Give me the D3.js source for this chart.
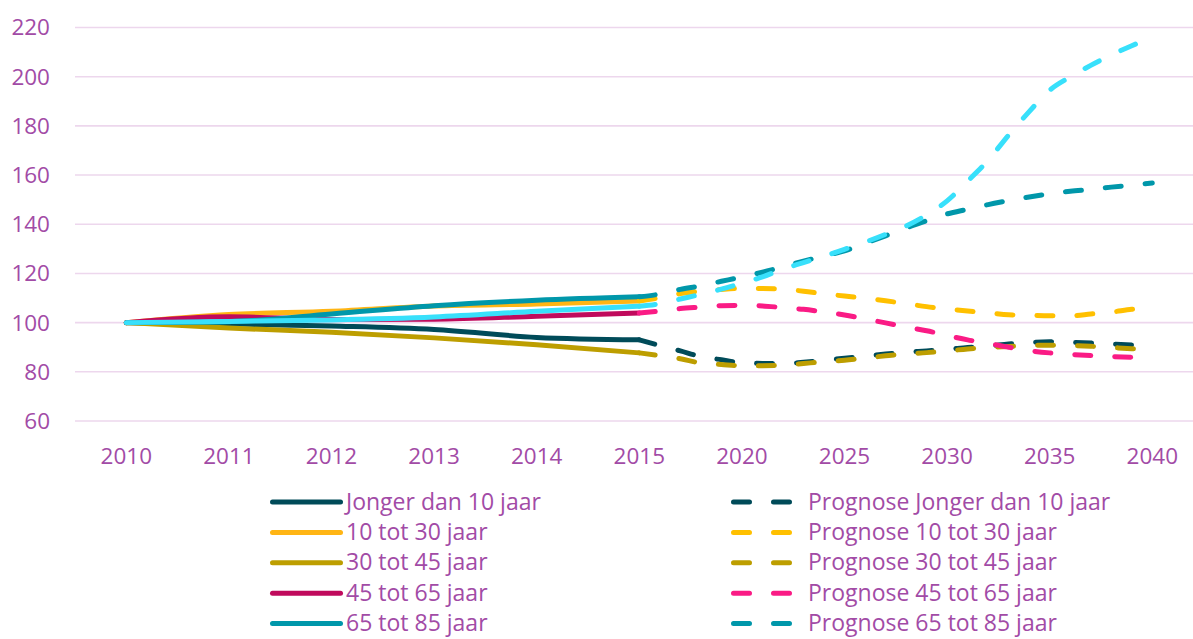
<!DOCTYPE html>
<html>
<head>
<meta charset="utf-8">
<script src="https://cdn.jsdelivr.net/npm/d3@7"></script>
<style>
  html, body { margin: 0; padding: 0; background: #ffffff; }
  svg { display: block; }
  text { font-family: "Open Sans", Lato, sans-serif; }
</style>
</head>
<body>
<svg id="chart" width="1193" height="639"></svg>
<script>
// ---- data ----
const categories = ["2010","2011","2012","2013","2014","2015","2020","2025","2030","2035","2040"];
const yTicks = [60, 80, 100, 120, 140, 160, 180, 200, 220];

const histYears = [2010, 2011, 2012, 2013, 2014, 2015];
const progYears = [2015,2016,2017,2018,2019,2020,2021,2022,2023,2024,2025,2026,2027,2028,2029,2030,2031,2032,2033,2034,2035,2036,2037,2038,2039,2040];

const seriesNames = ["Jonger dan 10 jaar", "10 tot 30 jaar", "30 tot 45 jaar", "45 tot 65 jaar", "65 tot 85 jaar", "85 jaar en ouder"];

const histJonger = [100, 99.5, 98.6, 97.2, 94.0, 93.0];
const hist10_30  = [100, 103.3, 104.6, 106.8, 107.6, 108.8];
const hist30_45  = [100, 97.8, 96.1, 93.8, 91.0, 87.7];
const hist45_65  = [100, 102.4, 101.3, 101.4, 102.6, 103.9];
const hist65_85  = [100, 100.4, 103.5, 106.9, 109.1, 110.5];
const hist85plus = [100, 100.5, 101.1, 102.3, 104.6, 106.7];

const progJonger = [93.0, 90.7, 88.5, 86.2, 84.9, 83.6, 83.4, 83.3, 83.9, 84.7, 85.5, 86.4, 87.2, 88.0, 88.5, 89.1, 89.9, 90.5, 91.3, 91.9, 92.2, 92.0, 91.7, 91.3, 90.9, 90.5];
const prog10_30  = [108.8, 110.1, 111.8, 112.8, 113.5, 113.9, 113.9, 113.5, 112.8, 111.7, 110.8, 109.9, 108.9, 107.7, 106.5, 105.6, 104.7, 104.0, 103.2, 103.0, 102.8, 102.8, 103.5, 104.3, 105.4, 106.1];
const prog30_45  = [87.7, 86.6, 85.3, 83.6, 83.0, 82.5, 82.5, 82.7, 83.4, 84.1, 84.7, 85.6, 86.5, 87.3, 87.8, 88.5, 89.3, 89.9, 90.3, 90.7, 90.8, 90.7, 90.4, 89.9, 89.4, 89.0];
const prog45_65  = [103.9, 104.7, 105.7, 106.3, 106.9, 107.0, 106.8, 106.1, 105.4, 104.3, 103.1, 101.5, 99.9, 98.2, 96.7, 94.8, 93.0, 91.6, 90.0, 88.6, 87.7, 87.1, 86.6, 86.2, 85.9, 85.7];
const prog65_85  = [110.5, 111.6, 113.5, 115.0, 116.8, 118.6, 120.5, 122.7, 125.0, 127.1, 129.2, 132.2, 135.3, 138.5, 141.4, 144.2, 146.1, 148.0, 149.6, 151.1, 152.4, 153.4, 154.2, 155.1, 155.9, 156.8];
const prog85plus = [106.7, 107.7, 109.6, 111.5, 113.6, 116.0, 118.6, 121.8, 124.4, 127.0, 129.8, 132.7, 135.9, 139.3, 143.8, 149.5, 157.5, 166.0, 176.3, 185.8, 194.5, 199.9, 204.6, 208.8, 212.6, 216.0];

const histColors = ["#004B59", "#FFB514", "#BD9E00", "#C00A5C", "#0097AA", "#38E0FB"];
const progColors = ["#004B59", "#FFC000", "#BD9E00", "#FA1B85", "#0097AA", "#38E0FB"];

// ---- setup ----
const W = 1193, H = 639;
const svg = d3.select("#chart");
const textColor = "#A24BA6";
const gridColor = "#EDD7ED";
const axisFont = 22.5;
const legendFont = 23;

const pt = d3.scalePoint().domain(categories).range([75, 1203.6]).padding(0.5);
const x = d3.scaleLinear()
  .domain([2010, 2015, 2040])
  .range([pt("2010"), pt("2015"), pt("2040")]);
const y = d3.scaleLinear().domain([60, 220]).range([421, 27.5]);

// gridlines
svg.append("g").selectAll("line").data(yTicks).join("line")
  .attr("x1", 75).attr("x2", W)
  .attr("y1", d => y(d)).attr("y2", d => y(d))
  .attr("stroke", gridColor).attr("stroke-width", 1.6);

// y labels
svg.append("g").selectAll("text").data(yTicks).join("text")
  .attr("x", 50).attr("y", d => y(d))
  .attr("dy", "0.35em")
  .attr("text-anchor", "end")
  .attr("font-size", axisFont)
  .attr("fill", textColor)
  .text(d => d);

// x labels
svg.append("g").selectAll("text").data(categories).join("text")
  .attr("x", d => pt(d)).attr("y", 456)
  .attr("dy", "0.35em")
  .attr("text-anchor", "middle")
  .attr("font-size", axisFont)
  .attr("fill", textColor)
  .text(d => d);

const hist = [histJonger, hist10_30, hist30_45, hist45_65, hist65_85, hist85plus];
const prog = [progJonger, prog10_30, prog30_45, prog45_65, prog65_85, prog85plus];

const lineGen = d3.line().x(d => x(d[0])).y(d => y(d[1])).curve(d3.curveMonotoneX);

const sw = 5;
const dash = "16,24";

const gLines = svg.append("g");
hist.forEach((vals, i) => {
  gLines.append("path")
    .datum(histYears.map((yr, k) => [yr, vals[k]]))
    .attr("d", lineGen)
    .attr("fill", "none")
    .attr("stroke", histColors[i])
    .attr("stroke-width", sw)
    .attr("stroke-linecap", "round")
    .attr("stroke-linejoin", "round");
});
prog.forEach((vals, i) => {
  gLines.append("path")
    .datum(progYears.map((yr, k) => [yr, vals[k]]))
    .attr("d", lineGen)
    .attr("fill", "none")
    .attr("stroke", progColors[i])
    .attr("stroke-width", sw)
    .attr("stroke-dasharray", dash)
    .attr("stroke-linecap", "round")
    .attr("stroke-linejoin", "round");
});

// legend
const legY0 = 502, legStep = 30.4;
const leg = svg.append("g");
seriesNames.forEach((name, i) => {
  const yy = legY0 + i * legStep;
  if (yy + 8 > H) return; // rows below the visible area are cut off
  leg.append("line")
    .attr("x1", 272.5).attr("x2", 340.5).attr("y1", yy).attr("y2", yy)
    .attr("stroke", histColors[i]).attr("stroke-width", sw)
    .attr("stroke-linecap", "round");
  leg.append("text")
    .attr("x", 346).attr("y", yy).attr("dy", "0.33em")
    .attr("font-size", legendFont).attr("fill", textColor)
    .text(name);
  leg.append("line")
    .attr("x1", 733.5).attr("x2", 790).attr("y1", yy).attr("y2", yy)
    .attr("stroke", progColors[i]).attr("stroke-width", sw)
    .attr("stroke-dasharray", dash)
    .attr("stroke-linecap", "round");
  leg.append("text")
    .attr("x", 808).attr("y", yy).attr("dy", "0.33em")
    .attr("font-size", legendFont).attr("fill", textColor)
    .text("Prognose " + name);
});
</script>
</body>
</html>
